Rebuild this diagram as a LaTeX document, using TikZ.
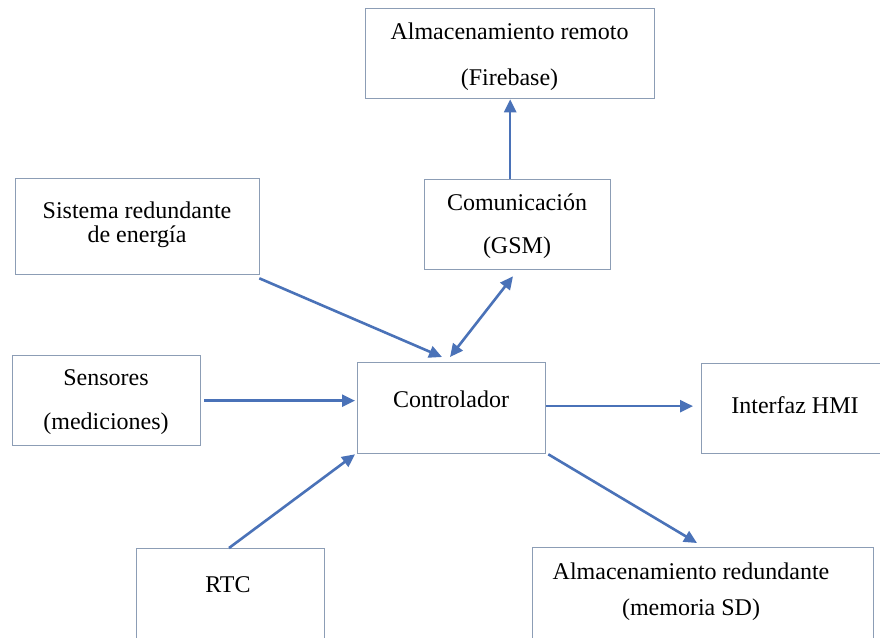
\documentclass[tikz,border=0pt]{standalone}
\usepackage{fontspec}
\setmainfont{Liberation Serif}
\usetikzlibrary{calc,arrows.meta}
\definecolor{boxc}{HTML}{8C9DB5}
\definecolor{arrc}{HTML}{4A72B8}
\begin{document}
\begin{tikzpicture}[x=1pt,y=-1pt,
  box/.style={draw=boxc,line width=1.3pt,rectangle,inner sep=0pt,anchor=north west},
  txt/.style={align=center,inner sep=0pt,font=\fontsize{24}{#1}\selectfont},
  txt/.default=44,
  arr/.style={draw=arrc,line width=2.6pt,-{Triangle[length=13pt,width=12pt]}},
  darr/.style={draw=arrc,line width=2.6pt,{Triangle[length=13pt,width=12pt]}-{Triangle[length=13pt,width=12pt]}}]
\useasboundingbox (0,0) rectangle (880,637);
\clip (0,0) rectangle (880,637);
\fill[white] (0,0) rectangle (880,637);
% boxes
\node[box,minimum width=289pt,minimum height=90pt] (remote) at (365,8) {};
\node[box,minimum width=186pt,minimum height=90pt] (com) at (424,179) {};
\node[box,minimum width=244pt,minimum height=96pt] (sis) at (15,178) {};
\node[box,minimum width=188pt,minimum height=90pt] (sens) at (12,355) {};
\node[box,minimum width=188pt,minimum height=91pt] (ctrl) at (357,362) {};
\node[box,minimum width=190pt,minimum height=90pt] (hmi) at (701,363) {};
\node[box,minimum width=188pt,minimum height=100pt] (rtc) at (136,548) {};
\node[box,minimum width=341pt,minimum height=100pt] (red) at (532,547) {};
% texts
\node[txt=46] (tremote) at (509.5,57) {Almacenamiento remoto\\(Firebase)};
\node[txt=43] (tcom) at (517,226) {Comunicación\\(GSM)};
\node[txt=24] (tsis) at (137,225) {Sistema redundante\\de energía};
\node[txt=44] (tsens) at (106,402) {Sensores\\(mediciones)};
\node[txt] (tctrl) at (451,399) {Controlador};
\node[txt] (thmi) at (795,405) {Interfaz HMI};
\node[txt] (trtc) at (228,585) {RTC};
\node[txt=36] (tred) at (691,592) {Almacenamiento redundante\\(memoria SD)};
% connectors
\draw[arr] (com.north -| remote.south) -- (remote.south);
\draw[arr] ($(sis.south east)+(-1,3)$) -- ($(ctrl.north west)+(85,-5)$);
\draw[darr] ($(ctrl.north west)+(93,-5)$) -- ($(com.south west)+(89,6)$);
\draw[arr] ($(sens.east)+(3,0)$) -- ($(sens.east -| ctrl.west)+(-2,0)$);
\draw[arr] ($(ctrl.east)+(0,-2)$) -- ($(ctrl.east -| hmi.west)+(-8,-2)$);
\draw[arr] ($(rtc.north west)+(93,0)$) -- ($(ctrl.south west)+(-2,0)$);
\draw[arr] ($(ctrl.south east)+(2,0)$) -- ($(red.north west)+(165,-4)$);
\end{tikzpicture}
\end{document}
